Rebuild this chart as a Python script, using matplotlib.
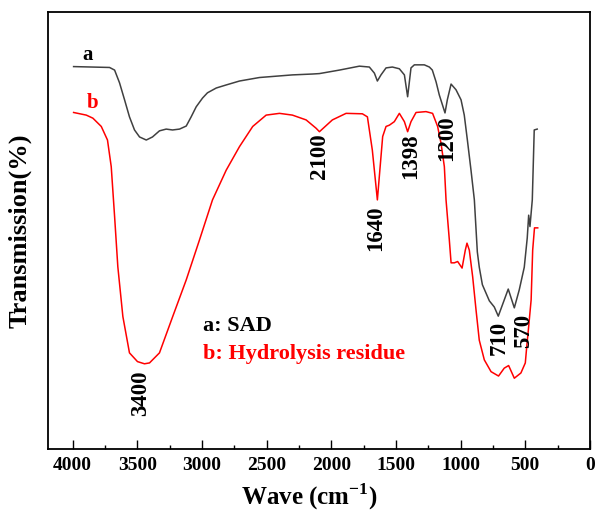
import matplotlib
matplotlib.use("Agg")
import matplotlib.pyplot as plt
from matplotlib.ticker import MultipleLocator

plt.rcParams['font.family'] = ['Liberation Serif', 'DejaVu Serif']
plt.rcParams['font.weight'] = 'bold'
plt.rcParams['mathtext.fontset'] = 'custom'
plt.rcParams['mathtext.rm'] = 'Liberation Serif:bold'
plt.rcParams['mathtext.bf'] = 'Liberation Serif:bold'

# FTIR spectra, wavenumber (cm-1) vs transmission (arb. units)
wave_a = [3992, 3714, 3675, 3637, 3598, 3560, 3521, 3482, 3430, 3382, 3328, 3276,
          3227, 3173, 3121, 3083, 3044, 2995, 2957, 2889, 2812, 2709, 2555, 2300,
          2145, 2091, 1937, 1782, 1705, 1666, 1643, 1615, 1576, 1527, 1473, 1434,
          1409, 1383, 1357, 1280, 1241, 1218, 1189, 1164, 1120, 1102, 1073, 1035,
          996, 971, 947, 919, 893, 870, 855, 831, 777, 739, 708, 662, 631, 584,
          546, 507, 484, 473, 463, 445, 430, 407]
trans_a = [87.5, 87.3, 86.7, 83.8, 79.9, 76.0, 73.0, 71.4, 70.7, 71.4, 72.8, 73.2,
           73.0, 73.2, 73.9, 76.0, 78.3, 80.3, 81.5, 82.6, 83.3, 84.2, 85.0, 85.6,
           85.8, 85.9, 86.7, 87.6, 87.4, 86.0, 84.2, 85.6, 87.2, 87.4, 87.0, 85.6,
           80.6, 87.2, 87.9, 87.9, 87.4, 86.7, 84.0, 81.0, 76.9, 79.9, 83.5, 82.2,
           79.9, 76.4, 70.7, 63.8, 57.0, 45.1, 41.6, 37.6, 33.9, 32.5, 30.4, 34.1,
           36.6, 32.3, 36.4, 41.6, 48.3, 53.5, 50.9, 57.0, 73.0, 73.2]

wave_b = [3992, 3894, 3843, 3778, 3730, 3701, 3675, 3650, 3611, 3560, 3498, 3444,
          3405, 3328, 3227, 3121, 3019, 2918, 2812, 2709, 2607, 2503, 2400, 2300,
          2194, 2117, 2091, 1991, 1885, 1759, 1720, 1682, 1643, 1602, 1576, 1550,
          1512, 1473, 1434, 1409, 1383, 1344, 1267, 1216, 1177, 1151, 1125, 1112,
          1087, 1073, 1048, 1022, 988, 963, 950, 932, 906, 880, 855, 816, 764, 706,
          662, 628, 584, 533, 499, 488, 473, 454, 442, 428, 403]
trans_b = [77.0, 76.4, 75.7, 73.8, 70.7, 64.6, 53.2, 41.7, 30.3, 22.0, 20.0, 19.5,
           19.7, 22.0, 30.2, 38.7, 47.8, 57.0, 63.8, 69.2, 73.8, 76.4, 76.8, 76.4,
           75.3, 73.4, 72.6, 75.3, 76.8, 76.7, 76.0, 68.4, 57.0, 71.5, 73.8, 74.1,
           74.9, 76.8, 74.9, 72.6, 74.9, 77.0, 77.2, 76.8, 73.8, 70.0, 64.6, 57.0,
           48.0, 42.6, 42.6, 42.9, 41.4, 45.5, 47.1, 45.5, 39.4, 31.8, 24.9, 20.4,
           17.7, 16.7, 18.5, 19.1, 16.2, 17.4, 19.7, 23.4, 28.0, 34.1, 45.5, 50.6,
           50.6]

# peak annotations: text, wavenumber, height
peak_labels = ["3400", "2100", "1640", "1398", "1200", "710", "570"]
peak_x = [3474, 2091, 1658, 1384, 1110, 704, 511]
peak_y = [12.8, 67.0, 50.6, 67.0, 71.2, 25.4, 27.0]

fig = plt.figure(figsize=(5.97, 5.20), dpi=100)
ax = fig.add_axes([0.0804, 0.1365, 0.9076, 0.8405])

ax.plot(wave_a, trans_a, color='#404040', lw=1.1)
ax.plot(wave_b, trans_b, color='#ff0000', lw=1.1)

ax.set_xlim(4190, 0)
ax.set_ylim(0, 100)

ax.text(3884, 90.2, "a", color='black', fontsize=15, fontweight='bold',
        ha='center', va='center')
ax.text(3845, 79.2, "b", color='#ff0000', fontsize=15, fontweight='bold',
        ha='center', va='center')

for lab, x, y in zip(peak_labels, peak_x, peak_y):
    ax.text(x, y, lab, rotation=90, fontsize=16.5, fontweight='bold',
            ha='center', va='center')

ax.text(2995, 28.1, "a: SAD", color='black', fontsize=16, fontweight='bold',
        ha='left', va='center')
ax.text(2995, 21.7, "b: Hydrolysis residue", color='#ff0000', fontsize=16,
        fontweight='bold', ha='left', va='center')

ax.xaxis.set_major_locator(MultipleLocator(500))
ax.xaxis.set_minor_locator(MultipleLocator(250))
ax.tick_params(axis='x', which='major', direction='in', length=6.5, width=1.0,
               labelsize=14, pad=6)
ax.tick_params(axis='x', which='minor', direction='in', length=3.2, width=1.0)
ax.set_yticks([])
for sp in ax.spines.values():
    sp.set_linewidth(1.3)

ax.set_xlabel("Wave (cm$^{-1}$)", fontsize=18, fontweight='bold')
ax.xaxis.set_label_coords(0.483, -0.075)
ax.set_ylabel("Transmission(%)", fontsize=19, fontweight='bold', labelpad=12)

fig.savefig("out.png", dpi=100)
